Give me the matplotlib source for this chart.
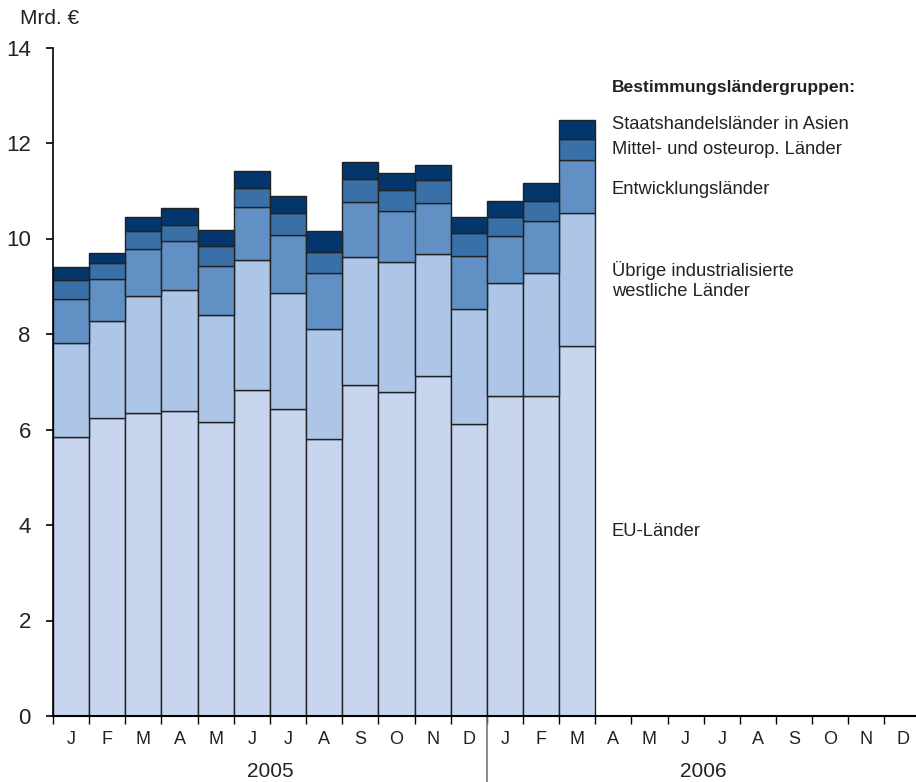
import numpy as np
import matplotlib
matplotlib.use('Agg')
import matplotlib.pyplot as plt

plt.rcParams['font.family'] = ['Liberation Sans', 'DejaVu Sans']

months = ['J', 'F', 'M', 'A', 'M', 'J', 'J', 'A', 'S', 'O', 'N', 'D'] * 2
years = ['2005', '2006']

# Mrd. EUR, Jan 2005 - Mär 2006
eu = [5.85, 6.25, 6.34, 6.38, 6.16, 6.82, 6.42, 5.80, 6.94, 6.78, 7.12, 6.11, 6.71, 6.70, 7.75]
uebrige = [1.97, 2.02, 2.46, 2.54, 2.23, 2.74, 2.43, 2.31, 2.67, 2.72, 2.56, 2.41, 2.35, 2.57, 2.79]
entw = [0.92, 0.88, 0.97, 1.02, 1.04, 1.09, 1.23, 1.16, 1.15, 1.08, 1.06, 1.11, 0.99, 1.09, 1.10]
moe = [0.40, 0.33, 0.39, 0.35, 0.42, 0.41, 0.45, 0.45, 0.48, 0.43, 0.48, 0.49, 0.40, 0.43, 0.44]
asien = [0.26, 0.22, 0.28, 0.34, 0.33, 0.35, 0.37, 0.44, 0.37, 0.36, 0.31, 0.34, 0.34, 0.38, 0.40]

series = [eu, uebrige, entw, moe, asien]
colors = ['#c8d5ee', '#adc5e7', '#6090c4', '#3a70a8', '#03366c']

fig = plt.figure(figsize=(9.16, 7.82), dpi=100)
ax = fig.add_axes([53/916, 66/782, 864/916, 668.5/782])

x = np.arange(len(eu)) + 0.5
bottom = np.zeros(len(eu))
for vals, c in zip(series, colors):
    ax.bar(x, vals, width=1.0, bottom=bottom, color=c, edgecolor='#222222', linewidth=1.0)
    bottom += np.array(vals)

ax.set_xlim(0, 23.9)
ax.set_ylim(0, 14)
ax.spines['top'].set_visible(False)
ax.spines['right'].set_visible(False)
ax.spines['bottom'].set_linewidth(1.5)
ax.spines['left'].set_linewidth(1.2)

ax.set_yticks(range(0, 15, 2))
ax.tick_params(axis='y', direction='out', length=5, width=1.2, pad=11, labelsize=16, labelcolor='#222222')
ax.set_xticks(range(0, 24))
ax.set_xticklabels([])
ax.set_xticks(np.arange(24) + 0.5, minor=True)
ax.set_xticklabels(months, minor=True)
ax.tick_params(axis='x', which='major', direction='out', length=6, width=1.0)
ax.tick_params(axis='x', which='minor', length=0, pad=11, labelsize=13, labelcolor='#222222')

ax.text(6, -1.17, years[0], ha='center', va='center', fontsize=15, color='#222222')
ax.text(18, -1.17, years[1], ha='center', va='center', fontsize=15, color='#222222')
ax.plot([12, 12], [0, -1.45], color='#777777', linewidth=1.2, clip_on=False)

fig.text(20/916, 1 - 18/782, 'Mrd. €', ha='left', va='center', fontsize=15, color='#222222')

tx = 15.46
txt = dict(fontsize=13.2, va='center', color='#222222')
ax.text(tx, 13.17, 'Bestimmungsländergruppen:', fontsize=12.6, fontweight='bold', va='center', color='#222222')
ax.text(tx, 12.38, 'Staatshandelsländer in Asien', **txt)
ax.text(tx, 11.87, 'Mittel- und osteurop. Länder', **txt)
ax.text(tx, 11.02, 'Entwicklungsländer', **txt)
ax.text(tx, 9.34, 'Übrige industrialisierte', **txt)
ax.text(tx, 8.88, 'westliche Länder', **txt)
ax.text(tx, 3.87, 'EU-Länder', **txt)

fig.savefig('out.png', dpi=100)
